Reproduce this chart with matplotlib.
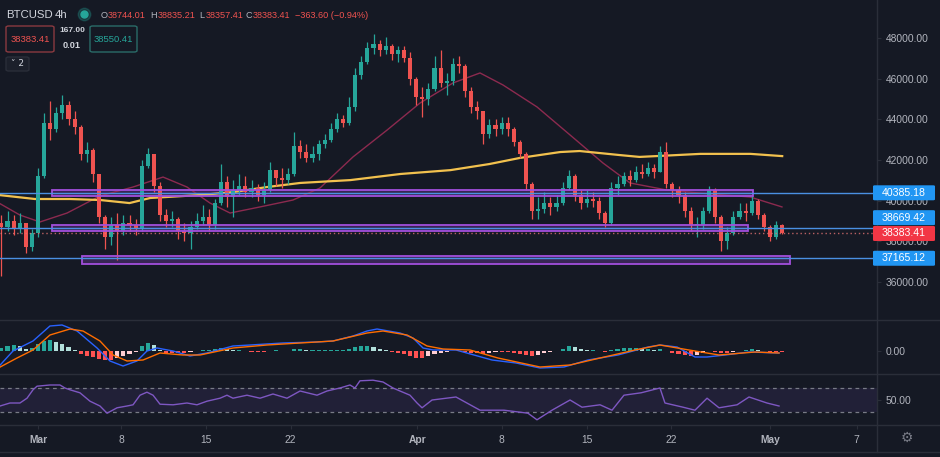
import numpy as np
import matplotlib
matplotlib.use("Agg")
import matplotlib.pyplot as plt
from matplotlib.patches import Rectangle, FancyBboxPatch
from matplotlib.lines import Line2D

plt.rcParams['font.family'] = ['Liberation Sans', 'DejaVu Sans']

# ---------------- data ----------------
SYMBOL = "BTCUSD"
INTERVAL = "4h"
T0 = -3.0          # first candle time (days from Mar 1)
STEP = 0.5         # candle spacing (days)
OPEN0 = 38900
CLOSE = [38700, 39000, 38600, 38900, 37700, 38400, 41200, 43800, 43500, 44300,
         44700, 44000, 43600, 42300, 42500, 41300, 39200, 38200, 38800, 38500,
         38900, 38800, 38600, 41700, 42300, 40700, 39300, 39000, 39100, 38500,
         38400, 38700, 39000, 39200, 38800, 39900, 40900, 40200, 40500, 40700,
         40400, 40600, 40300, 40500, 41500, 41100, 41000, 41300, 42700, 42400,
         42100, 42300, 42800, 43000, 43500, 44000, 43800, 44600, 46200, 46800,
         47500, 47700, 47400, 47600, 47200, 47400, 47000, 46000, 45100, 45000,
         45500, 46500, 45800, 45900, 46700, 46600, 45400, 44600, 44400, 43300,
         43700, 43500, 43800, 43500, 42900, 42300, 40800, 39500, 39600, 39900,
         39700, 39900, 40600, 41200, 40300, 39900, 40100, 40000, 39400, 38900,
         40600, 40800, 41200, 41000, 41400, 41300, 41600, 41400, 42400, 40800,
         40500, 40300, 39500, 38800, 38800, 39500, 40500, 39200, 38000, 38400,
         39200, 39500, 39400, 40000, 39300, 38700, 38200, 38800, 38383.41]
HIGH = [39300, 39500, 39300, 39400, 38900, 38600, 41600, 44300, 44900, 44600,
        45200, 44900, 44400, 43700, 42900, 42600, 41300, 39300, 39200, 39400,
        39300, 39300, 39100, 42000, 42600, 42300, 40900, 39600, 39500, 39200,
        38900, 39000, 39400, 39800, 39600, 40100, 41800, 41200, 41000, 41300,
        41200, 41000, 40800, 40900, 41900, 41500, 41600, 41600, 43400, 43000,
        42800, 42700, 43000, 43300, 43800, 44300, 44200, 45100, 46500, 47100,
        47800, 48200, 47900, 48050, 47700, 47600, 47600, 47300, 46100, 45600,
        45800, 47100, 47400, 46300, 47000, 47100, 46700, 45600, 44900, 44400,
        44000, 44000, 44100, 44100, 43600, 43000, 42400, 40900, 40200, 40400,
        40200, 40300, 40900, 41500, 41300, 40500, 40500, 40400, 40200, 39500,
        40900, 41200, 41400, 41500, 41700, 41800, 41900, 41800, 42700, 42900,
        40900, 40700, 40400, 39700, 39200, 39700, 40700, 40600, 39300, 38700,
        39500, 39900, 39900, 40300, 40100, 39400, 38800, 39000, 38835.21]
LOW = [36300, 38500, 38300, 38400, 37400, 37500, 38200, 41100, 43000, 43400,
       44000, 43700, 43300, 42000, 41900, 40900, 38900, 37600, 37800, 37100,
       38300, 38500, 38300, 38500, 41600, 40400, 39000, 38700, 38700, 38100,
       38000, 37600, 38600, 38800, 38500, 38600, 39800, 39700, 39200, 40300,
       40200, 40200, 40000, 39900, 40400, 40700, 40600, 40800, 41200, 42100,
       41900, 41900, 42000, 42600, 42900, 43400, 43600, 43700, 44400, 46000,
       46700, 47200, 47100, 47200, 46900, 46800, 46800, 45700, 44700, 44100,
       44700, 45400, 45600, 45200, 45700, 46300, 45100, 44300, 44000, 42800,
       43100, 43200, 43300, 43200, 42700, 42100, 40500, 39100, 39100, 39400,
       39300, 39500, 39800, 40500, 40000, 39600, 39700, 39700, 39100, 38700,
       38800, 40300, 40700, 40700, 40900, 41100, 41200, 41100, 41400, 40600,
       40200, 39900, 39200, 38500, 38200, 38600, 39400, 38900, 37500, 37600,
       38300, 39100, 39000, 39300, 39100, 38500, 38000, 38100, 38357.41]

SLOW_MA_DAYS = [-3.2, -0.25, 2.6, 5.1, 7.5, 9.2, 13.3, 16.0, 18.8, 21.5, 25.6, 29.7,
                33.8, 37.0, 39.5, 42.8, 44.4, 47.7, 49.3, 51.0, 54.3, 58.4, 61.0]
SLOW_MA = [40276, 40080, 40080, 40030, 39880, 40130, 40276, 40420, 40670, 40870, 41010,
           41310, 41500, 41800, 42100, 42390, 42440, 42240, 42150, 42200, 42300, 42300, 42190]
FAST_MA_DAYS = [-3.2, -1.48, 0.16, 2.38, 5.08, 7.79, 10.25, 12.21, 14.10, 15.74, 18.20,
                20.90, 23.11, 25.82, 28.61, 31.31, 34.02, 36.23, 38.11, 40.90, 43.61,
                46.31, 48.52, 51.56, 54.26, 58.36, 60.98]
FAST_MA = [39880, 39290, 38950, 39390, 40230, 40670, 41160, 40670, 39880, 39390, 39690,
           40030, 40620, 42150, 43470, 44800, 45790, 46280, 45690, 44610, 43230,
           41850, 40870, 40520, 40370, 40180, 39690]

LEVELS = [40385.18, 38669.42, 37165.12]
LAST_PRICE = 38383.41
# zones: (start day, end day, low price, high price)
ZONES = [(1.15, 58.6, 40227, 40522),
         (1.15, 58.2, 38505, 38800),
         (3.6, 61.6, 36882, 37275)]

MACD_DAYS = [-3.1, -2.05, -0.41, 0.98, 1.97, 3.2, 4.84, 5.9, 6.97, 8.11, 8.93, 9.75, 11.07,
             12.46, 13.85, 15.98, 17.38, 20.08, 22.87, 24.18, 25.82, 26.97, 27.79, 29.67,
             30.74, 31.56, 32.38, 34.26, 37.21, 39.18, 41.15, 43.11, 45.08, 47.54, 50.0,
             50.98, 52.38, 53.85, 54.84, 56.31, 58.28, 60.74]
MACD_LINE = [-840, 0, 600, 1500, 1560, 1200, 180, -600, -900, -600, 0, 180, 0, -300, -120,
             300, 360, 480, 540, 600, 900, 1200, 1320, 1080, 780, 180, 60, 60, -540, -720,
             -1020, -960, -540, -240, 240, 360, 240, -360, -360, -240, -60, -120]
SIGNAL_DAYS = [-3.1, -1.72, -0.41, 0.98, 2.62, 3.69, 5.08, 6.15, 7.3, 8.61, 10.0, 11.89,
               13.28, 15.98, 18.77, 21.48, 24.18, 26.97, 28.28, 30.25, 31.89, 33.2, 35.41,
               37.7, 41.15, 43.61, 46.07, 48.93, 50.98, 53.36, 55.82, 58.77, 60.74]
SIGNAL_LINE = [-960, -420, 60, 960, 1320, 1200, 600, -240, -600, -540, -120, -240, -240,
               180, 360, 480, 600, 1080, 1200, 960, 300, 120, 60, -420, -960, -840, -420,
               60, 360, 60, -240, -60, -120]
HIST = [180, 300, 360, 300, 120, 180, 420, 600, 660, 540,
        420, 240, 60, -180, -300, -360, -480, -540, -540, -420,
        -300, -180, -60, 300, 480, 360, 60, -120, -120, -120,
        -120, -60, 30, 60, 60, 120, 180, 120, 60, 60,
        30, -30, -60, -60, 30, 60, 30, 30, 120, 120,
        60, 60, 60, 60, 60, 60, 60, 120, 240, 300,
        300, 240, 120, 60, -60, -120, -180, -300, -420, -420,
        -300, -180, -120, -60, 30, 30, -60, -120, -120, -180,
        -120, -60, -60, -60, -120, -180, -240, -300, -240, -120,
        -60, 30, 120, 300, 240, 120, 60, 60, 30, -30,
        60, 120, 180, 180, 180, 120, 120, 60, 120, 0,
        -120, -180, -240, -300, -240, -120, 0, -60, -120, -120,
        -60, 30, 60, 120, 60, 0, -60, -60, -60]

RSI_DAYS = [-3.11, -2.3, -1.48, -0.9, -0.41, -0.08, 0.98, 1.8, 2.21, 2.62,
            3.44, 4.26, 5.08, 5.66, 6.48, 7.3, 7.79, 8.36, 8.93, 9.43,
            10.0, 11.07, 12.21, 13.03, 13.85, 14.92, 15.49, 15.98, 17.13, 18.2,
            19.26, 20.41, 21.48, 22.87, 23.69, 24.75, 25.57, 25.98, 26.39, 27.46,
            28.28, 29.1, 29.67, 30.49, 31.07, 31.48, 32.3, 34.26, 36.23, 38.2,
            40.16, 40.9, 42.13, 43.61, 44.59, 46.07, 47.05, 48.03, 49.43, 50.98,
            51.39, 52.87, 53.85, 54.84, 55.82, 57.3, 58.28, 59.75, 60.74]
RSI = [40, 45, 45, 53, 67, 73, 75, 75, 70, 67,
       62, 48, 40, 28, 37, 40, 42, 58, 63, 58,
       43, 42, 45, 42, 48, 53, 58, 53, 58, 53,
       60, 53, 65, 58, 65, 70, 75, 70, 82, 83,
       80, 70, 65, 58, 45, 37, 50, 55, 33, 33,
       28, 17, 33, 50, 38, 42, 33, 58, 62, 70,
       45, 38, 33, 53, 37, 42, 55, 45, 40]

PRICE_TICKS = [36000, 38000, 40000, 42000, 44000, 46000, 48000]
XTICK_POS = [0, 6.8, 13.8, 20.7, 31.1, 38.0, 45.0, 51.9, 60.0, 67.1]
XTICK_LABELS = ['Mar', '8', '15', '22', 'Apr', '8', '15', '22', 'May', '7']

HEADER_OHLC = [("O", "38744.01"), ("H", "38835.21"), ("L", "38357.41"), ("C", "38383.41")]
HEADER_CHANGE = "\u2212363.60 (\u22120.94%)"
SELL_PRICE, BUY_PRICE = "38383.41", "38550.41"
SPREAD_TOP, SPREAD_BOT = "167.00", "0.01"

# ---------------- style ----------------
W, H, DPI = 940, 457, 100
BG = '#151924'
TXT = '#b2b5be'
LINEC = '#2a2e39'
UP, DOWN = '#26a69a', '#ef5350'
AXR = 877


def fx(px):
    return px / W


def fy(py):
    return 1 - py / H


fig = plt.figure(figsize=(W / DPI, H / DPI), dpi=DPI, facecolor=BG)
ax = fig.add_axes([0, fy(320), fx(AXR), 320 / H])
axm = fig.add_axes([0, fy(374), fx(AXR), 53 / H])
axr = fig.add_axes([0, fy(425), fx(AXR), 50 / H])

XLIM = (-3.115, 68.77)
for a in (ax, axm, axr):
    a.set_facecolor(BG)
    a.set_xlim(*XLIM)
    for s in ('top', 'left', 'bottom'):
        a.spines[s].set_visible(False)
    a.spines['right'].set_color(LINEC)
    a.yaxis.tick_right()
    a.tick_params(axis='y', colors=LINEC, labelcolor=TXT, labelsize=7.4,
                  length=3, pad=3)
    a.tick_params(axis='x', bottom=False, labelbottom=False)

# ---------------- main price panel ----------------
ax.set_ylim(34128, 49869)
ax.set_yticks(PRICE_TICKS)
ax.set_yticklabels([f"{v:.2f}" for v in PRICE_TICKS])

close = np.array(CLOSE, dtype=float)
opens = np.concatenate([[OPEN0], close[:-1]])
high = np.array(HIGH, dtype=float)
low = np.array(LOW, dtype=float)
t = T0 + STEP * np.arange(len(close))
cols = np.where(close >= opens, UP, DOWN)

# zones
for (x0, x1, p0, p1) in ZONES:
    ax.add_patch(Rectangle((x0, p0), x1 - x0, p1 - p0, facecolor='#7b3fb0', alpha=0.35,
                           edgecolor='none', zorder=1))
    ax.add_patch(Rectangle((x0, p0), x1 - x0, p1 - p0, facecolor='none',
                           edgecolor='#a24fdc', lw=1.3, zorder=4))

for lv in LEVELS:
    ax.axhline(lv, color='#4a90e2', lw=1.0, zorder=4.5)
ax.axhline(LAST_PRICE, color='#e57373', lw=1.0, ls=(0, (1, 2)), alpha=0.8, zorder=4.5)

# moving averages
ax.plot(FAST_MA_DAYS, FAST_MA, color='#8c2a4f', lw=1.0, zorder=2)
ax.plot(SLOW_MA_DAYS, SLOW_MA, color='#f2c14e', lw=1.6, zorder=2)

# candles
ax.vlines(t, low, high, colors=cols, lw=0.9, zorder=3)
body = close - opens
body = np.where(np.abs(body) < 40, 40, body)
ax.bar(t, body, bottom=opens, width=0.34, color=cols, edgecolor='none', zorder=3)

# ---------------- MACD panel ----------------
axm.set_ylim(-1380, 1800)
axm.set_yticks([0])
axm.set_yticklabels(['0.00'])
hist = np.array(HIST, dtype=float)
prev = np.concatenate([[hist[0]], hist[:-1]])
hcols = np.where(hist >= 0, np.where(hist >= prev, '#26a69a', '#b2dfdb'),
                 np.where(hist <= prev, '#ff5252', '#ffcdd2'))
axm.bar(t, hist, width=0.34, color=hcols, edgecolor='none', zorder=2)
axm.plot(MACD_DAYS, MACD_LINE, color='#2962ff', lw=1.0, zorder=3)
axm.plot(SIGNAL_DAYS, SIGNAL_LINE, color='#ff6d00', lw=1.0, zorder=3)

# ---------------- RSI panel ----------------
axr.set_ylim(8.33, 91.67)
axr.set_yticks([50])
axr.set_yticklabels(['50.00'])
axr.axhspan(30, 70, color='#7e57c2', alpha=0.12, lw=0)
axr.axhline(70, color='#787b86', lw=0.9, ls=(0, (3, 3)))
axr.axhline(30, color='#787b86', lw=0.9, ls=(0, (3, 3)))
axr.plot(RSI_DAYS, RSI, color='#7e57c2', lw=1.0)

axr.tick_params(axis='x', bottom=True, labelbottom=True, colors=LINEC,
                labelcolor=TXT, labelsize=7.4, length=3, pad=4)
axr.set_xticks(XTICK_POS)
axr.set_xticklabels(XTICK_LABELS)
for lab in axr.get_xticklabels():
    if lab.get_text().isalpha():
        lab.set_fontweight('bold')

# separators
for py in (320, 374, 425, 452):
    fig.add_artist(Line2D([0, 1], [fy(py), fy(py)], color=LINEC, lw=1,
                          transform=fig.transFigure))
fig.add_artist(Line2D([fx(AXR), fx(AXR)], [fy(452), 1], color=LINEC, lw=1,
                      transform=fig.transFigure))

# ---------------- price labels on right ----------------
fig.canvas.draw()


def price_py(p):
    return H - ax.transData.transform((0, p))[1]


def label_box(py, text, color):
    x0, x1, h = 873, 935, 15
    fig.add_artist(FancyBboxPatch((fx(x0), fy(py + h / 2)), fx(x1 - x0), h / H,
                                  boxstyle='round,pad=0,rounding_size=0.002',
                                  facecolor=color, edgecolor='none',
                                  transform=fig.transFigure, zorder=10))
    fig.text(fx((x0 + x1) / 2), fy(py), text, color='white', fontsize=7.6,
             ha='center', va='center', zorder=11)


label_box(price_py(LEVELS[0]), f"{LEVELS[0]:.2f}", '#2196f3')
label_box(price_py(LEVELS[1]) - 10, f"{LEVELS[1]:.2f}", '#2196f3')
label_box(price_py(LAST_PRICE), f"{LAST_PRICE:.2f}", '#f23645')
label_box(price_py(LEVELS[2]), f"{LEVELS[2]:.2f}", '#2196f3')

# ---------------- header ----------------
fig.text(fx(6), fy(15), SYMBOL, color='#d1d4dc', fontsize=8.2, va='center')
fig.text(fx(55), fy(15), INTERVAL, color='#d1d4dc', fontsize=8.2, va='center')
fig.add_artist(Line2D([fx(84)], [fy(14)], marker='o', markersize=9, color=UP,
                      alpha=0.25, transform=fig.transFigure))
fig.add_artist(Line2D([fx(84)], [fy(14)], marker='o', markersize=5, color=UP,
                      transform=fig.transFigure))
xpos = [(101, 108), (150, 158), (199, 206), (246, 253)]
for (lx, vx), (letter, val) in zip(xpos, HEADER_OHLC):
    fig.text(fx(lx), fy(15), letter, color=TXT, fontsize=6.6, va='center')
    fig.text(fx(vx), fy(15), val, color='#f05350', fontsize=6.6, va='center')
fig.text(fx(295), fy(15), HEADER_CHANGE, color='#f05350', fontsize=6.6, va='center')


def fbox(x0, y0, x1, y1, ec, fc=BG):
    fig.add_artist(FancyBboxPatch((fx(x0), fy(y1)), fx(x1 - x0), (y1 - y0) / H,
                                  boxstyle='round,pad=0,rounding_size=0.003',
                                  facecolor=fc, edgecolor=ec, lw=1.0,
                                  transform=fig.transFigure))


fbox(6, 26, 54, 52, '#8a3a40')
fig.text(fx(30), fy(39.5), SELL_PRICE, color='#f05350', fontsize=6.8, ha='center', va='center')
fbox(90, 26, 137, 52, '#2a6b68')
fig.text(fx(113.5), fy(39.5), BUY_PRICE, color=UP, fontsize=6.8, ha='center', va='center')
fig.text(fx(72), fy(31), SPREAD_TOP, color='#d1d4dc', fontsize=6.0, ha='center',
         va='center', fontweight='bold')
fig.text(fx(72), fy(45), SPREAD_BOT, color='#d1d4dc', fontsize=6.6, ha='center',
         va='center', fontweight='bold')
fbox(6, 57, 29, 71, '#2a2e39', fc='#1c202b')
fig.text(fx(17.5), fy(64), "\u02c5 2", color='#d1d4dc', fontsize=6.5, ha='center',
         va='center', family=['DejaVu Sans'])

# settings gear
fig.text(fx(907), fy(438), "\u2699", color='#787b86', fontsize=10, ha='center',
         va='center', family=['DejaVu Sans'])

fig.savefig('out.png', dpi=DPI, facecolor=BG)
